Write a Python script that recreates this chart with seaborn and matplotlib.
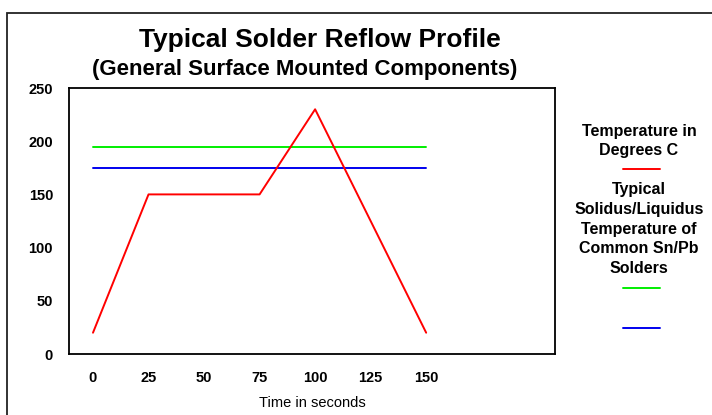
import matplotlib
matplotlib.use("Agg")
import matplotlib.pyplot as plt
import seaborn as sns
import pandas as pd
from matplotlib.lines import Line2D
from matplotlib.patches import Rectangle

time_s = [0, 25, 50, 75, 100, 125, 150]
temperature = [20, 150, 150, 150, 230, 125, 20]
liquidus = [195, 195, 195, 195, 195, 195, 195]
solidus = [175, 175, 175, 175, 175, 175, 175]
x_ticks = [0, 25, 50, 75, 100, 125, 150]
y_ticks = [0, 50, 100, 150, 200, 250]

sns.set_style("white")
plt.rcParams['font.family'] = ['Liberation Sans', 'DejaVu Sans']
plt.rcParams['text.color'] = 'black'
plt.rcParams['axes.labelcolor'] = 'black'
plt.rcParams['xtick.color'] = 'black'
plt.rcParams['ytick.color'] = 'black'

df = pd.DataFrame({"t": time_s, "temp": temperature, "liq": liquidus, "sol": solidus})

fig = plt.figure(figsize=(7.12, 4.15), dpi=100)
W, H = 712, 415
ax = fig.add_axes([69 / W, 1 - 354 / H, (555 - 69) / W, (354 - 88) / H])

sns.lineplot(data=df, x="t", y="liq", ax=ax, color="#00ee00", lw=1.4)
sns.lineplot(data=df, x="t", y="sol", ax=ax, color="#0000ee", lw=1.4)
sns.lineplot(data=df, x="t", y="temp", ax=ax, color="#ff0000", lw=1.4)

ax.set_xlim(-10.8, 208)
ax.set_ylim(0, 250)
ax.set_xticks(x_ticks)
ax.set_yticks(y_ticks)
ax.set_xticklabels([str(v) for v in x_ticks], fontsize=10.5, fontweight="bold")
ax.set_yticklabels([str(v) for v in y_ticks], fontsize=10.5, fontweight="bold")
ax.tick_params(axis="both", length=0)
ax.tick_params(axis="x", pad=12.5)
ax.tick_params(axis="y", pad=11.5)
ax.set_xlabel("Time in seconds", fontsize=10.5, labelpad=8)
ax.set_ylabel("")
for s in ax.spines.values():
    s.set_visible(True)
    s.set_color("black")
    s.set_linewidth(1.3)
ax.grid(False)

# title
fig.text(320 / W, 1 - 40 / H, "Typical Solder Reflow Profile", ha="center", va="center",
         fontsize=19, fontweight="bold")
fig.text(305 / W, 1 - 70 / H, "(General Surface Mounted Components)", ha="center", va="center",
         fontsize=16, fontweight="bold")

# outer border
fig.add_artist(Rectangle((7 / W, -0.1), 1.2, 1 - 13 / H + 0.1, transform=fig.transFigure,
                         fill=False, edgecolor="#222222", lw=1.3))

# legend
lx = 639 / W
fig.text(lx, 1 - 141 / H, "Temperature in\nDegrees C", ha="center", va="center",
         fontsize=11.5, fontweight="bold", linespacing=1.4)
fig.add_artist(Line2D([623 / W, 660 / W], [1 - 169 / H] * 2, color="#ff0000", lw=1.4))
fig.text(lx, 1 - 229 / H, "Typical\nSolidus/Liquidus\nTemperature of\nCommon Sn/Pb\nSolders",
         ha="center", va="center", fontsize=11.5, fontweight="bold", linespacing=1.4)
fig.add_artist(Line2D([623 / W, 660 / W], [1 - 288 / H] * 2, color="#00ee00", lw=1.4))
fig.add_artist(Line2D([623 / W, 660 / W], [1 - 328 / H] * 2, color="#0000ee", lw=1.4))

fig.savefig("out.png", dpi=100)
